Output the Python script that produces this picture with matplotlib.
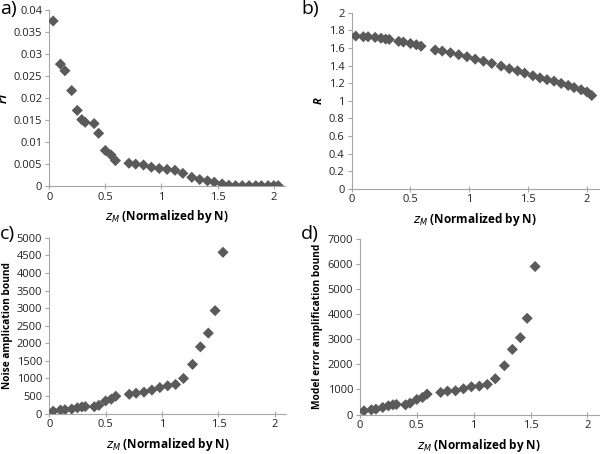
import matplotlib.pyplot as plt

plt.rcParams['font.family'] = ['Open Sans', 'DejaVu Sans']

# z_M positions (normalized by N)
z_ab = [0.035, 0.10, 0.14, 0.20, 0.25, 0.29, 0.32, 0.40, 0.44, 0.50, 0.55, 0.59,
        0.71, 0.77, 0.84, 0.91, 0.98, 1.05, 1.12, 1.19, 1.27, 1.34, 1.41, 1.47,
        1.54, 1.60, 1.66, 1.72, 1.78, 1.84, 1.89, 1.95, 2.00, 2.04]
z_cd = z_ab[:25]

r1 = [0.0375, 0.0277, 0.0262, 0.0217, 0.0172, 0.0151, 0.0145, 0.0142, 0.0120,
      0.0081, 0.0071, 0.0058, 0.0052, 0.0050, 0.0048, 0.0043, 0.0040, 0.0038,
      0.0036, 0.0029, 0.0020, 0.0015, 0.0012, 0.0009, 0.0005, 0.0002, 0.0001,
      0.0001, 0.0001, 0.0001, 0.0001, 0.0001, 0.0001, 0.0001]

R = [1.735, 1.727, 1.727, 1.72, 1.71, 1.70, 1.697, 1.674, 1.667, 1.65, 1.636,
     1.62, 1.576, 1.564, 1.545, 1.523, 1.50, 1.473, 1.45, 1.424, 1.394, 1.364,
     1.34, 1.314, 1.284, 1.26, 1.24, 1.223, 1.197, 1.174, 1.15, 1.125, 1.10, 1.06]

noise = [70, 100, 110, 130, 165, 190, 200, 195, 235, 360, 410, 495, 550, 580,
         610, 670, 740, 790, 830, 1000, 1400, 1900, 2290, 2930, 4590]

model_err = [146, 186, 213, 280, 346, 386, 400, 386, 452, 600, 680, 812, 878,
             932, 945, 1025, 1105, 1131, 1198, 1424, 1943, 2595, 3061, 3833, 5896]

xlabel = r'$\boldsymbol{z_M}$ (Normalized by N)'
grey = '#5a5a5a'
axcol = '#a6a6a6'

fig = plt.figure(figsize=(6.0, 4.54), dpi=100)

# rect, x, y, ylim, ystep, ylabel, tag, tag position
panels = [
    ([0.082, 0.590, 0.393, 0.388], z_ab, r1, (0, 0.04), 0.005, 'r1', 'a)', (0.0, 1.0)),
    ([0.586, 0.584, 0.412, 0.388], z_ab, R, (0, 2), 0.2, 'R', 'b)', (0.502, 1.0)),
    ([0.082, 0.089, 0.395, 0.387], z_cd, noise, (0, 5000), 500,
     'Noise amplication bound', 'c)', (0.0, 0.505)),
    ([0.600, 0.087, 0.398, 0.387], z_cd, model_err, (0, 7000), 1000,
     'Model error amplification bound', 'd)', (0.502, 0.505)),
]

for rect, xs, ys, ylim, ystep, ylab, tag, tpos in panels:
    ax = fig.add_axes(rect)
    ax.scatter(xs, ys, marker='D', s=32, color=grey, edgecolors='none', zorder=3)
    ax.set_xlim(0, 2.1)
    ax.set_ylim(*ylim)
    ax.set_xticks([0, 0.5, 1, 1.5, 2])
    ax.set_xticklabels(['0', '0.5', '1', '1.5', '2'])
    n = int(round((ylim[1] - ylim[0]) / ystep))
    yt = [ylim[0] + i * ystep for i in range(n + 1)]
    ax.set_yticks(yt)
    ax.set_yticklabels(['{:g}'.format(round(v, 4)) for v in yt])
    for s in ['top', 'right']:
        ax.spines[s].set_visible(False)
    for s in ['left', 'bottom']:
        ax.spines[s].set_color(axcol)
        ax.spines[s].set_linewidth(0.8)
    ax.tick_params(colors=axcol, labelcolor='#222222', labelsize=8, length=3,
                   width=0.8, pad=2)
    ax.tick_params(axis='x', direction='inout', length=4)
    ax.set_xlabel(xlabel, fontsize=8.5, fontweight='bold', labelpad=4)
    if ylab in ('r1', 'R'):
        ax.set_ylabel(ylab, fontsize=8, fontstyle='italic', fontweight='bold',
                      labelpad=3)
    else:
        ax.set_ylabel(ylab, fontsize=7.3, fontweight='bold', labelpad=3)
    ax.patch.set_alpha(0)
    fig.text(tpos[0], tpos[1], tag, fontsize=14, ha='left', va='top')

fig.savefig('out.png', dpi=100)
